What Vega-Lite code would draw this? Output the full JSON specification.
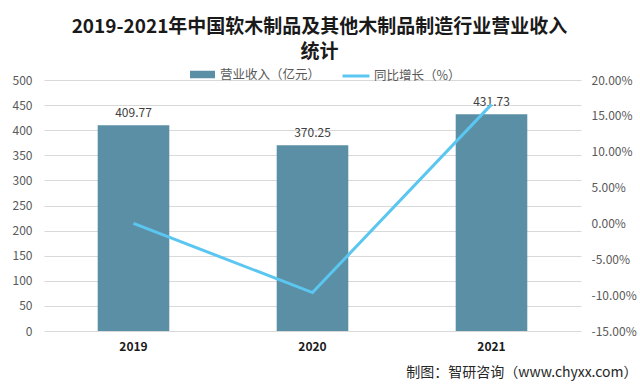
{
  "$schema": "https://vega.github.io/schema/vega-lite/v6.json",
  "width": 537,
  "height": 251,
  "autosize": {"type": "none"},
  "padding": {"left": 44, "top": 80, "right": 59, "bottom": 53},
  "background": "#ffffff",
  "title": {
    "text": ["2019-2021年中国软木制品及其他木制品制造行业营业收入", "统计"],
    "font": "Noto Sans CJK SC",
    "fontSize": 19,
    "fontWeight": "bold",
    "color": "#1a1a1a",
    "anchor": "middle",
    "frame": "group",
    "dx": 7,
    "lineHeight": 25,
    "offset": -1
  },
  "config": {
    "font": "Noto Sans CJK SC",
    "view": {"stroke": null},
    "axis": {"labelFont": "Noto Sans CJK SC", "labelColor": "#595959", "labelFontSize": 12, "domain": false, "ticks": false}
  },
  "data": {
    "values": [
      {"year": "2019", "revenue": 409.77, "growth": 0.0},
      {"year": "2020", "revenue": 370.25, "growth": -0.0964},
      {"year": "2021", "revenue": 431.73, "growth": 0.166}
    ]
  },
  "encoding": {
    "x": {
      "field": "year",
      "type": "nominal",
      "scale": {"paddingInner": 0.6, "paddingOuter": 0.3},
      "axis": {
        "labelAngle": 0,
        "labelFontWeight": "bold",
        "labelColor": "#1a1a1a",
        "labelFontSize": 12,
        "labelPadding": 10,
        "title": "制图：智研咨询（www.chyxx.com）",
        "titleFont": "Noto Sans CJK SC",
        "titleFontSize": 14,
        "titleFontWeight": "normal",
        "titleColor": "#262626",
        "titleAlign": "right",
        "titleBaseline": "middle",
        "titleX": 593,
        "titleY": 41
      }
    }
  },
  "layer": [
    {
      "layer": [
        {
          "mark": {"type": "bar", "color": "#5b8fa6"},
          "encoding": {
            "color": {
              "datum": "营业收入（亿元）",
              "scale": {"range": ["#5b8fa6"]},
              "legend": {
                "title": null,
                "orient": "none",
                "legendX": 145,
                "legendY": -19,
                "symbolType": "M-1,-0.3H1V0.3H-1Z",
                "symbolSize": 625,
                "labelFontSize": 12.5,
                "labelColor": "#595959",
                "labelOffset": 4
              }
            }
          }
        },
        {
          "mark": {"type": "text", "dy": -12, "fontSize": 12, "color": "#404040"},
          "encoding": {
            "text": {"field": "revenue", "type": "quantitative", "format": ".2f"}
          }
        }
      ],
      "encoding": {
        "y": {
          "field": "revenue",
          "type": "quantitative",
          "scale": {"domain": [0, 500]},
          "axis": {
            "values": [0, 50, 100, 150, 200, 250, 300, 350, 400, 450, 500],
            "title": null,
            "grid": true,
            "gridColor": "#d9d9d9",
            "labelPadding": 12
          }
        }
      }
    },
    {
      "mark": {"type": "line", "strokeWidth": 3, "color": "#5bc6f0"},
      "encoding": {
        "y": {
          "field": "growth",
          "type": "quantitative",
          "scale": {"domain": [-0.15, 0.2]},
          "axis": {
            "orient": "right",
            "values": [-0.15, -0.1, -0.05, 0, 0.05, 0.1, 0.15, 0.2],
            "labelExpr": "replace(format(datum.value, '.2%'), '−', '-')",
            "title": null,
            "grid": false,
            "labelPadding": 10
          }
        },
        "stroke": {
          "datum": "同比增长（%）",
          "scale": {"range": ["#5bc6f0"]},
          "legend": {
            "title": null,
            "orient": "none",
            "legendX": 297,
            "legendY": -19,
            "symbolType": "stroke",
            "symbolSize": 729,
            "symbolStrokeWidth": 3,
            "labelFontSize": 12.5,
            "labelColor": "#595959",
            "labelOffset": 3
          }
        }
      }
    }
  ],
  "resolve": {"scale": {"y": "independent"}}
}
